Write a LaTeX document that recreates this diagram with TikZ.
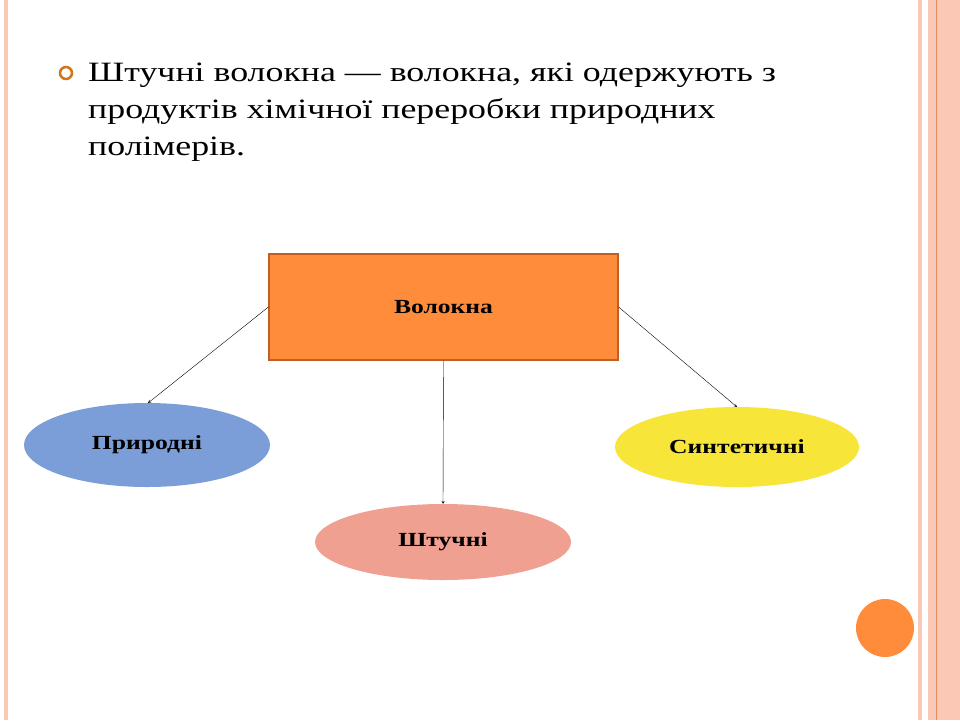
\documentclass[tikz,border=0pt]{standalone}
\usepackage{fontspec}
\setmainfont{Liberation Serif}
\newfontfamily\widefont[FakeStretch=1.28]{Liberation Serif}
\definecolor{boxfill}{RGB}{255,140,58}
\definecolor{boxline}{RGB}{190,95,40}
\definecolor{blueE}{RGB}{123,157,216}
\definecolor{pinkE}{RGB}{240,160,144}
\definecolor{yellE}{RGB}{248,229,58}
\definecolor{peach}{RGB}{250,200,180}
\definecolor{peachD}{RGB}{230,140,90}
\begin{document}
\begin{tikzpicture}[x=1pt,y=-1pt,
  lbl/.style={font=\widefont\fontsize{20}{24}\selectfont\bfseries},
  arr/.style={->,>=stealth,thin}]
\useasboundingbox (0,0) rectangle (960,720);
\fill[white] (0,0) rectangle (960,720);
\fill[peach] (4,0) rectangle (8,720);
\fill[peach] (918,0) rectangle (922,720);
\fill[peach] (928,0) rectangle (960,720);
\draw[peachD,line width=1] (936,0) -- (936,720);
\draw[orange!80!black!90,line width=2.5] (66,73) circle (6);
\node[anchor=base west,align=left,font=\widefont\fontsize{28}{37}\selectfont,inner sep=0] (t) at (88,155)
 {Штучні волокна — волокна, які одержують з\\продуктів хімічної переробки природних\\полімерів.};
\node[draw=boxline,line width=1.2,fill=boxfill,
  minimum width=349,minimum height=106,inner sep=0,lbl] (v) at (443.5,307) {Волокна};
\fill[blueE] (147,445) ellipse (123 and 42);
\node[lbl] (p) at (147,445) {Природні};
\fill[pinkE] (443,542) ellipse (128 and 38);
\node[lbl] (s) at (443,542) {Штучні};
\fill[yellE] (737,447) ellipse (122 and 40);
\node[lbl] (n) at (737,447) {Синтетичні};
\coordinate (pe) at (148,403);
\coordinate (se) at (443,504);
\coordinate (ne) at (737,407);
\draw[arr] (v.west) -- (pe);
\draw[arr] (v.south) -- (se);
\draw[arr] (v.east) -- (ne);
\fill[boxfill] (885,628) circle (29);
\end{tikzpicture}
\end{document}
